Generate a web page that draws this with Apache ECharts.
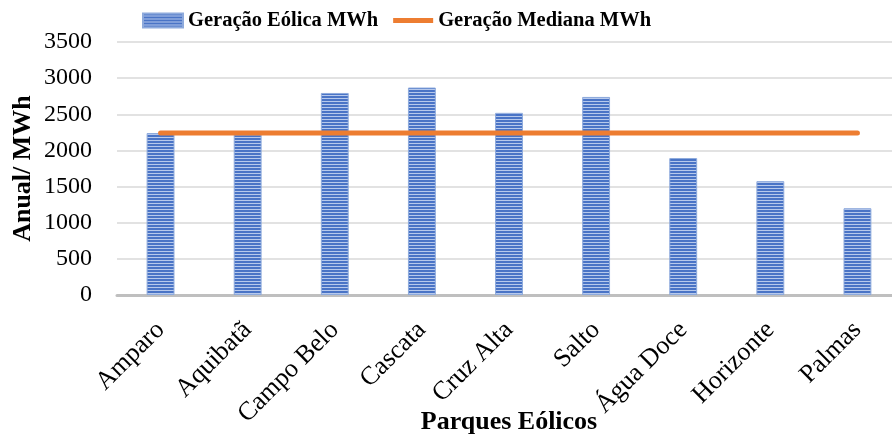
<!DOCTYPE html>
<html>
<head>
<meta charset="utf-8">
<script src="https://cdn.jsdelivr.net/npm/echarts@6/dist/echarts.min.js"></script>
<style>
  html, body { margin: 0; padding: 0; background: #fff; }
  #chart { width: 892px; height: 438px; }
</style>
</head>
<body>
<div id="chart"></div>
<script>
// Wind farms and their annual generation (MWh)
const parques = ['Amparo', 'Aquibatã', 'Campo Belo', 'Cascata', 'Cruz Alta', 'Salto', 'Água Doce', 'Horizonte', 'Palmas'];
const geracaoEolica = [2240, 2220, 2795, 2870, 2520, 2740, 1895, 1575, 1200];
const geracaoMediana = [2240, 2240, 2240, 2240, 2240, 2240, 2240, 2240, 2240];
const yTicks = { min: 0, max: 3500, interval: 500 };

// Horizontal striped fill for the bars
function stripePattern() {
  const c = document.createElement('canvas');
  c.width = 4; c.height = 3;
  const ctx = c.getContext('2d');
  ctx.fillStyle = '#4a74c6';
  ctx.fillRect(0, 0, 4, 2);
  ctx.fillStyle = '#b7c9ec';
  ctx.fillRect(0, 2, 4, 1);
  return c;
}
const stripes = { image: stripePattern(), repeat: 'repeat' };

const font = '"Liberation Serif", "Times New Roman", serif';
const chart = echarts.init(document.getElementById('chart'), null, { renderer: 'canvas' });
chart.setOption({
  backgroundColor: '#ffffff',
  animation: false,
  textStyle: { fontFamily: font },
  legend: {
    top: 5,
    left: 137,
    itemWidth: 40,
    itemHeight: 14,
    itemGap: 15,
    textStyle: { fontFamily: font, fontSize: 20.5, fontWeight: 'bold', color: '#000' },
    data: [
      { name: 'Geração Eólica MWh', icon: 'rect' },
      { name: 'Geração Mediana MWh', icon: 'path://M0,0 L40,0 L40,5 L0,5 Z' }
    ]
  },
  grid: { left: 117, right: -9, top: 42, bottom: 143, containLabel: false, outerBoundsMode: 'none' },
  xAxis: {
    type: 'category',
    data: parques,
    name: 'Parques Eólicos',
    nameLocation: 'middle',
    nameGap: 114,
    nameMoveOverlap: false,
    nameTextStyle: { fontFamily: font, fontSize: 26, fontWeight: 'bold', color: '#000' },
    axisLine: { lineStyle: { color: '#bfbfbf', width: 3 } },
    axisTick: { show: false },
    axisLabel: { rotate: 45, fontFamily: font, fontSize: 26, color: '#000', margin: 31 }
  },
  yAxis: {
    type: 'value',
    min: yTicks.min,
    max: yTicks.max,
    interval: yTicks.interval,
    name: 'Anual/ MWh',
    nameLocation: 'middle',
    nameGap: 81,
    nameMoveOverlap: false,
    nameTextStyle: { fontFamily: font, fontSize: 26, fontWeight: 'bold', color: '#000' },
    axisLine: { show: false },
    axisTick: { show: false },
    axisLabel: { fontFamily: font, fontSize: 24, color: '#000', margin: 25, formatter: v => String(v) },
    splitLine: { lineStyle: { color: '#d9d9d9', width: 1.5 } }
  },
  series: [
    {
      name: 'Geração Eólica MWh',
      type: 'bar',
      data: geracaoEolica,
      barWidth: '32%',
      itemStyle: { color: stripes, borderColor: '#8eaadc', borderWidth: 1 }
    },
    {
      name: 'Geração Mediana MWh',
      type: 'line',
      data: geracaoMediana,
      symbol: 'none',
      lineStyle: { color: '#ed7d31', width: 5, cap: 'round' },
      itemStyle: { color: '#ed7d31' }
    }
  ]
});
</script>
</body>
</html>
